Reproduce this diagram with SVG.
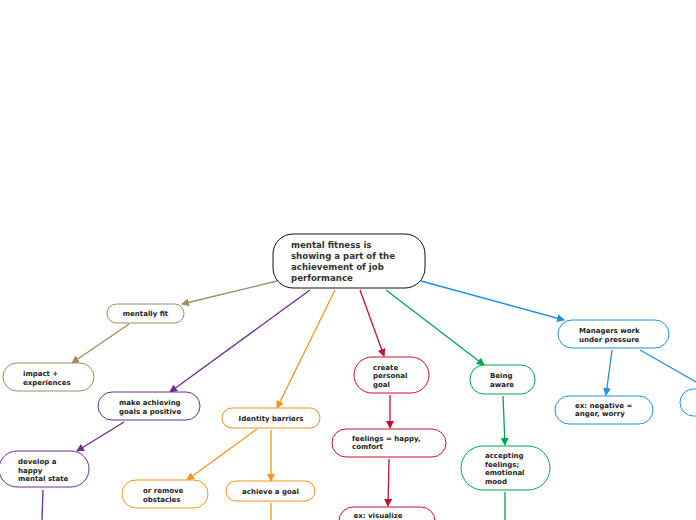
<svg xmlns="http://www.w3.org/2000/svg" width="696" height="520" viewBox="0 0 696 520">
<style>
text{font-family:"DejaVu Sans",Verdana,sans-serif;font-weight:bold;font-size:7px;fill:#222}
.root text{font-size:8.6px;fill:#333}
rect{fill:#fff;stroke-width:1}
.c path{fill:none;stroke-width:1.3}
.br{stroke:#a08a60}.pu{stroke:#6a2c91}.or{stroke:#f7931e}.re{stroke:#c8102e}.gr{stroke:#00a651}.bl{stroke:#1e90dd}
</style>
<defs>
<marker id="mbr" markerWidth="8" markerHeight="8" refX="7" refY="4" orient="auto" markerUnits="userSpaceOnUse"><path d="M0,0L8,4L0,8z" fill="#a08a60"/></marker>
<marker id="mpu" markerWidth="8" markerHeight="8" refX="7" refY="4" orient="auto" markerUnits="userSpaceOnUse"><path d="M0,0L8,4L0,8z" fill="#6a2c91"/></marker>
<marker id="mor" markerWidth="8" markerHeight="8" refX="7" refY="4" orient="auto" markerUnits="userSpaceOnUse"><path d="M0,0L8,4L0,8z" fill="#f7931e"/></marker>
<marker id="mre" markerWidth="8" markerHeight="8" refX="7" refY="4" orient="auto" markerUnits="userSpaceOnUse"><path d="M0,0L8,4L0,8z" fill="#c8102e"/></marker>
<marker id="mgr" markerWidth="8" markerHeight="8" refX="7" refY="4" orient="auto" markerUnits="userSpaceOnUse"><path d="M0,0L8,4L0,8z" fill="#00a651"/></marker>
<marker id="mbl" markerWidth="8" markerHeight="8" refX="7" refY="4" orient="auto" markerUnits="userSpaceOnUse"><path d="M0,0L8,4L0,8z" fill="#1e90dd"/></marker>
</defs>
<g class="c" id="connectors">
<path class="br" d="M277,281L182,304" marker-end="url(#mbr)"/>
<path class="br" d="M129,324L72,363" marker-end="url(#mbr)"/>
<path class="pu" d="M310,290L170,392" marker-end="url(#mpu)"/>
<path class="pu" d="M124,422L77,451" marker-end="url(#mpu)"/>
<path class="pu" d="M43,490L42,520"/>
<path class="or" d="M335,290L277,408" marker-end="url(#mor)"/>
<path class="or" d="M257,429L187,480" marker-end="url(#mor)"/>
<path class="or" d="M271,430L271,481" marker-end="url(#mor)"/>
<path class="or" d="M271,503L271,520"/>
<path class="re" d="M360,290L384,356" marker-end="url(#mre)"/>
<path class="re" d="M390,395L390,428" marker-end="url(#mre)"/>
<path class="re" d="M389,459L388,506" marker-end="url(#mre)"/>
<path class="gr" d="M386,290L484,365" marker-end="url(#mgr)"/>
<path class="gr" d="M503,396L505,445" marker-end="url(#mgr)"/>
<path class="gr" d="M505,492L505,520"/>
<path class="bl" d="M421,281L564,320" marker-end="url(#mbl)"/>
<path class="bl" d="M612,350L606,395" marker-end="url(#mbl)"/>
<path class="bl" d="M640,350L696,382"/>
</g>
<g id="root" class="root"><rect x="273" y="234" width="152" height="54" rx="20" stroke="#111"/>
<text x="291" y="248">mental fitness is</text><text x="291" y="259">showing a part of the</text><text x="291" y="270">achievement of job</text><text x="291" y="281">performance</text></g>
<g id="n1"><rect x="107" y="304" width="77" height="19" rx="9.5" stroke="#a08a60"/><text x="145.5" y="316" text-anchor="middle">mentally fit</text></g>
<g id="n2"><rect x="3" y="363" width="91" height="28" rx="14" stroke="#a08a60"/><text x="23" y="376">impact +</text><text x="23" y="385">experiences</text></g>
<g id="n3"><rect x="98" y="392" width="102" height="28" rx="14" stroke="#6a2c91"/><text x="119" y="405">make achieving</text><text x="119" y="414">goals a positive</text></g>
<g id="n4"><rect x="-1" y="451" width="90" height="36" rx="18" stroke="#6a2c91"/><text x="18" y="464">develop a</text><text x="18" y="473">happy</text><text x="18" y="481">mental state</text></g>
<g id="n5"><rect x="222" y="408" width="98" height="20" rx="10" stroke="#f7931e"/><text x="271" y="421" text-anchor="middle">Identity barriers</text></g>
<g id="n6"><rect x="122" y="480" width="86" height="28" rx="14" stroke="#f7931e"/><text x="143" y="493">or remove</text><text x="143" y="502">obstacles</text></g>
<g id="n7"><rect x="226" y="481" width="89" height="20" rx="10" stroke="#f7931e"/><text x="270.5" y="494" text-anchor="middle">achieve a goal</text></g>
<g id="n8"><rect x="354" y="357" width="75" height="36" rx="18" stroke="#c8102e"/><text x="373" y="370">create</text><text x="373" y="378">personal</text><text x="373" y="387">goal</text></g>
<g id="n9"><rect x="332" y="429" width="114" height="28" rx="14" stroke="#c8102e"/><text x="352" y="441">feelings = happy,</text><text x="352" y="449">comfort</text></g>
<g id="n10"><rect x="339" y="507" width="96" height="28" rx="14" stroke="#c8102e"/><text x="378" y="518" text-anchor="middle">ex: visualize</text></g>
<g id="n11"><rect x="470" y="365" width="65" height="29" rx="14" stroke="#00a651"/><text x="490" y="378">Being</text><text x="490" y="387">aware</text></g>
<g id="n12"><rect x="461" y="446" width="89" height="44" rx="22" stroke="#00a651"/><text x="485" y="458">accepting</text><text x="485" y="467">feelings;</text><text x="485" y="475">emotional</text><text x="485" y="484">mood</text></g>
<g id="n13"><rect x="558" y="320" width="111" height="28" rx="14" stroke="#1e90dd"/><text x="579" y="333">Managers work</text><text x="579" y="342">under pressure</text></g>
<g id="n14"><rect x="555" y="396" width="98" height="28" rx="14" stroke="#1e90dd"/><text x="575" y="408">ex: negative =</text><text x="575" y="416">anger, worry</text></g>
<g id="n15"><rect x="680" y="389" width="60" height="27" rx="13.5" stroke="#1e90dd"/></g>
</svg>
